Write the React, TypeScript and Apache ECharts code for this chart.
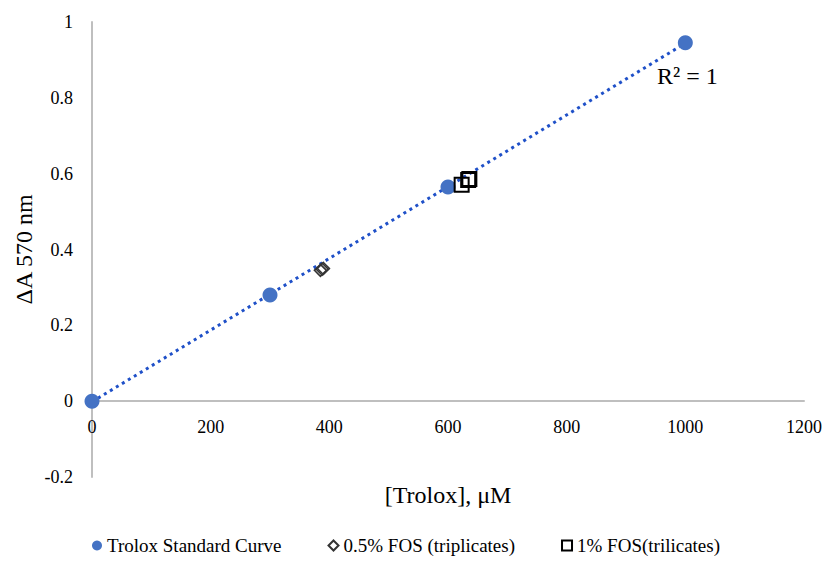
import React, { useEffect, useRef } from "react";
import * as echarts from "echarts";

const troloxX = [0, 300, 600, 1000];
const troloxY = [0, 0.28, 0.565, 0.945];
const fos05X = [385, 388, 390];
const fos05Y = [0.345, 0.348, 0.35];
const fos1X = [623, 634, 636];
const fos1Y = [0.571, 0.583, 0.586];
const seriesNames = ["Trolox Standard Curve", "0.5% FOS (triplicates)", "1% FOS(trilicates)"];
const rSquaredLabel = "R\u00B2 = 1";

const FONT = "Liberation Serif";
const Y_MIN = -0.2;
const Y_MAX = 1;
const GRID_H = 455;

function fit(xs: number[], ys: number[]) {
  const n = xs.length;
  const mx = xs.reduce((a, b) => a + b, 0) / n;
  const my = ys.reduce((a, b) => a + b, 0) / n;
  let sxy = 0, sxx = 0;
  for (let i = 0; i < n; i++) {
    sxy += (xs[i] - mx) * (ys[i] - my);
    sxx += (xs[i] - mx) * (xs[i] - mx);
  }
  const m = sxy / sxx;
  return { m, b: my - m * mx };
}

export default function App() {
  const ref = useRef<HTMLDivElement>(null);
  useEffect(() => {
    document.body.style.margin = "0";
    if (!ref.current) return;
    const chart = echarts.init(ref.current, null, { renderer: "svg" });
    const { m, b } = fit(troloxX, troloxY);
    const xMin = Math.min(...troloxX);
    const xMax = Math.max(...troloxX);
    const trend = [
      [xMin, b + m * xMin],
      [xMax, b + m * xMax],
    ];
    // distance from grid bottom up to the y = 0 line
    const zeroOffset = ((0 - Y_MIN) / (Y_MAX - Y_MIN)) * GRID_H;
    chart.setOption({
      animation: false,
      textStyle: { fontFamily: FONT },
      grid: { left: 92, top: 22, width: 714, height: GRID_H, containLabel: false },
      xAxis: {
        type: "value",
        position: "bottom",
        offset: -zeroOffset,
        min: 0,
        max: 1200,
        interval: 200,
        name: "[Trolox], \u03BCM",
        nameLocation: "middle",
        nameGap: 82,
        nameMoveOverlap: false,
        nameTextStyle: { fontFamily: FONT, fontSize: 24, color: "#000" },
        axisLine: { onZero: false, lineStyle: { color: "#bfbfbf", width: 2 } },
        axisTick: { show: false },
        splitLine: { show: false },
        axisLabel: {
          fontFamily: FONT,
          fontSize: 18,
          color: "#000",
          margin: 17,
          formatter: (v: number) => String(v),
        },
      },
      yAxis: {
        type: "value",
        min: Y_MIN,
        max: Y_MAX,
        interval: 0.2,
        name: "\u0394A 570 nm",
        nameLocation: "middle",
        nameGap: 56,
        nameMoveOverlap: false,
        nameTextStyle: { fontFamily: FONT, fontSize: 24, color: "#000" },
        axisLine: { show: true, onZero: false, lineStyle: { color: "#bfbfbf", width: 2 } },
        axisTick: { show: false },
        splitLine: { show: false },
        axisLabel: {
          fontFamily: FONT,
          fontSize: 18,
          color: "#000",
          margin: 19,
          formatter: (v: number) => String(Math.round(v * 10) / 10),
        },
      },
      legend: {
        top: 536,
        left: 92,
        itemGap: 46,
        itemWidth: 10,
        itemHeight: 10,
        padding: 0,
        data: seriesNames,
        textStyle: { fontFamily: FONT, fontSize: 19, color: "#000" },
      },
      graphic: [
        {
          type: "text",
          left: 657,
          top: 64,
          style: { text: rSquaredLabel, fontFamily: FONT, fontSize: 24, fill: "#000" },
        },
      ],
      series: [
        {
          name: "trend",
          type: "line",
          data: trend,
          symbol: "none",
          silent: true,
          lineStyle: { color: "#1f50c8", width: 3, type: [3, 4] },
          z: 1,
        },
        {
          name: seriesNames[0],
          type: "scatter",
          symbol: "circle",
          symbolSize: 15,
          data: troloxX.map((x, i) => [x, troloxY[i]]),
          itemStyle: { color: "#4472c4", opacity: 1 },
          z: 3,
        },
        {
          name: seriesNames[1],
          type: "scatter",
          symbol: "diamond",
          symbolSize: 12,
          data: fos05X.map((x, i) => [x, fos05Y[i]]),
          itemStyle: { color: "rgba(255,255,255,0)", borderColor: "#333", borderWidth: 1.6, opacity: 1 },
          z: 4,
        },
        {
          name: seriesNames[2],
          type: "scatter",
          symbol: "rect",
          symbolSize: 14,
          data: fos1X.map((x, i) => [x, fos1Y[i]]),
          itemStyle: { color: "rgba(255,255,255,0)", borderColor: "#000", borderWidth: 2, opacity: 1 },
          z: 4,
        },
      ],
    });
    return () => chart.dispose();
  }, []);
  return <div ref={ref} style={{ width: 825, height: 565 }} />;
}
